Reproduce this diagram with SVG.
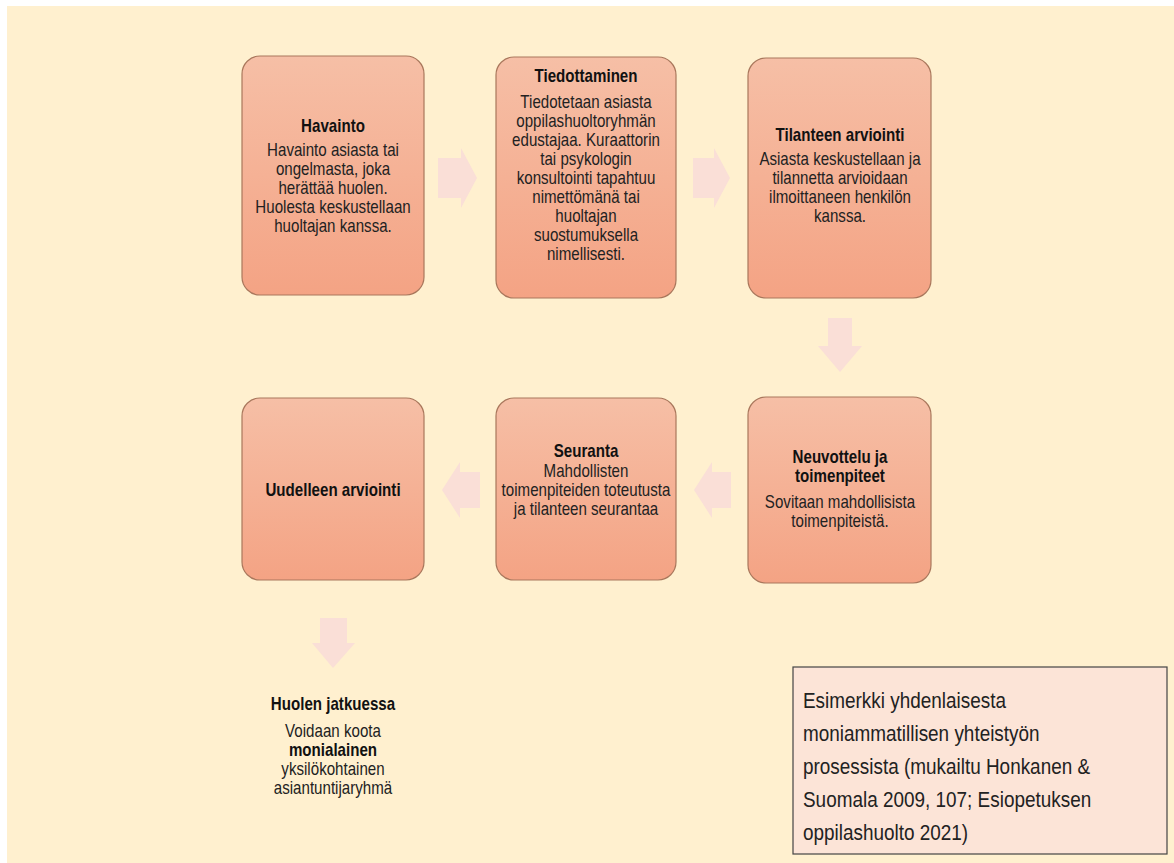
<svg xmlns="http://www.w3.org/2000/svg" width="1174" height="863" viewBox="0 0 1174 863">
<defs>
<linearGradient id="g" x1="0" y1="0" x2="0" y2="1">
<stop offset="0" stop-color="#f6bfa6"/>
<stop offset="1" stop-color="#f4a384"/>
</linearGradient>
<style>
.box{fill:url(#g);stroke:#a9775c;stroke-width:1.2}
.arr{fill:#fadfd7}
.t{font-family:"Liberation Sans",Arial,sans-serif;font-size:18px;fill:#222;text-anchor:middle}
.b{font-weight:bold;fill:#111}
.note{font-family:"Liberation Sans",Arial,sans-serif;font-size:21.5px;fill:#222}
</style>
</defs>
<rect x="0" y="0" width="1174" height="863" fill="#ffffff"/>
<rect x="7" y="6" width="1167" height="857" fill="#fff0cf"/>

<g id="connectors">
<path class="arr" d="M438,158 H461 V148 L477,178 L461,208 V198 H438 Z"/>
<path class="arr" d="M693,158 H714 V148 L730,178 L714,208 V198 H693 Z"/>
<path class="arr" d="M828,318 H852 V346 H862 L840,372 L818,346 H828 Z"/>
<path class="arr" d="M731,472 H712 V462 L694,490 L712,518 V508 H731 Z"/>
<path class="arr" d="M480,472 H460 V462 L442,490 L460,518 V508 H480 Z"/>
<path class="arr" d="M320,618 H347 V643 H355 L333,668 L312,643 H320 Z"/>
</g>

<g id="havainto">
<rect class="box" x="242" y="56" width="182" height="239" rx="18"/>
<g transform="translate(333 0) scale(0.84 1)">
<text class="t b" x="0" y="132">Havainto</text>
<text class="t" x="0" y="156">Havainto asiasta tai</text>
<text class="t" x="0" y="175">ongelmasta, joka</text>
<text class="t" x="0" y="194">herättää huolen.</text>
<text class="t" x="0" y="213">Huolesta keskustellaan</text>
<text class="t" x="0" y="232">huoltajan kanssa.</text>
</g>
</g>

<g id="tiedottaminen">
<rect class="box" x="496" y="57" width="180" height="241" rx="18"/>
<g transform="translate(586 0) scale(0.84 1)">
<text class="t b" x="0" y="82">Tiedottaminen</text>
<text class="t" x="0" y="108">Tiedotetaan asiasta</text>
<text class="t" x="0" y="127">oppilashuoltoryhmän</text>
<text class="t" x="0" y="146">edustajaa. Kuraattorin</text>
<text class="t" x="0" y="165">tai psykologin</text>
<text class="t" x="0" y="184">konsultointi tapahtuu</text>
<text class="t" x="0" y="203">nimettömänä tai</text>
<text class="t" x="0" y="222">huoltajan</text>
<text class="t" x="0" y="241">suostumuksella</text>
<text class="t" x="0" y="260">nimellisesti.</text>
</g>
</g>

<g id="tilanteen-arviointi">
<rect class="box" x="748" y="58" width="183" height="240" rx="18"/>
<g transform="translate(840 0) scale(0.84 1)">
<text class="t b" x="0" y="141">Tilanteen arviointi</text>
<text class="t" x="0" y="165">Asiasta keskustellaan ja</text>
<text class="t" x="0" y="184">tilannetta arvioidaan</text>
<text class="t" x="0" y="203">ilmoittaneen henkilön</text>
<text class="t" x="0" y="222">kanssa.</text>
</g>
</g>

<g id="neuvottelu">
<rect class="box" x="748" y="397" width="183" height="186" rx="18"/>
<g transform="translate(840 0) scale(0.84 1)">
<text class="t b" x="0" y="463">Neuvottelu ja</text>
<text class="t b" x="0" y="482">toimenpiteet</text>
<text class="t" x="0" y="508">Sovitaan mahdollisista</text>
<text class="t" x="0" y="527">toimenpiteistä.</text>
</g>
</g>

<g id="seuranta">
<rect class="box" x="496" y="398" width="180" height="182" rx="18"/>
<g transform="translate(586 0) scale(0.84 1)">
<text class="t b" x="0" y="457">Seuranta</text>
<text class="t" x="0" y="477">Mahdollisten</text>
<text class="t" x="0" y="496">toimenpiteiden toteutusta</text>
<text class="t" x="0" y="515">ja tilanteen seurantaa</text>
</g>
</g>

<g id="uudelleen-arviointi">
<rect class="box" x="242" y="398" width="182" height="182" rx="18"/>
<g transform="translate(333 0) scale(0.84 1)">
<text class="t b" x="0" y="496">Uudelleen arviointi</text>
</g>
</g>

<g id="huolen-jatkuessa">
<g transform="translate(333 0) scale(0.84 1)">
<text class="t b" x="0" y="710">Huolen jatkuessa</text>
<text class="t" x="0" y="737">Voidaan koota</text>
<text class="t b" x="0" y="756">monialainen</text>
<text class="t" x="0" y="775">yksilökohtainen</text>
<text class="t" x="0" y="794">asiantuntijaryhmä</text>
</g>
</g>

<g id="note">
<rect x="793" y="667" width="374" height="187" fill="#fce4d7" stroke="#444" stroke-width="1.2"/>
<g transform="translate(803 0) scale(0.88 1)">
<text class="note" x="0" y="708">Esimerkki yhdenlaisesta</text>
<text class="note" x="0" y="741">moniammatillisen yhteistyön</text>
<text class="note" x="0" y="774">prosessista (mukailtu Honkanen &amp;</text>
<text class="note" x="0" y="807">Suomala 2009, 107; Esiopetuksen</text>
<text class="note" x="0" y="840">oppilashuolto 2021)</text>
</g>
</g>
</svg>
